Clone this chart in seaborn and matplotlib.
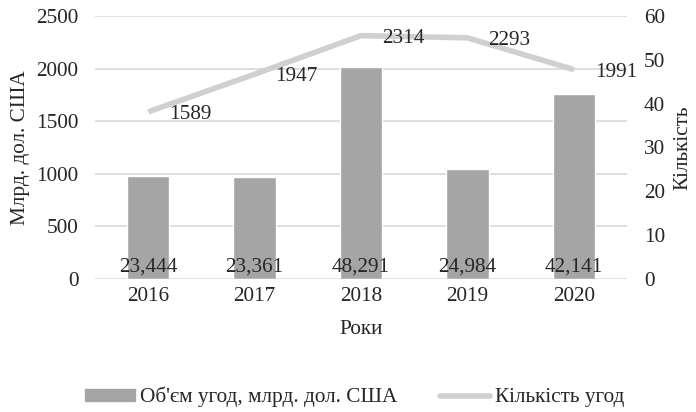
import numpy as np
import pandas as pd
import matplotlib
matplotlib.use('Agg')
import matplotlib.pyplot as plt
import seaborn as sns
from matplotlib.patches import Patch
from matplotlib.lines import Line2D

years = ['2016', '2017', '2018', '2019', '2020']
volume = [23.444, 23.361, 48.291, 24.984, 42.141]   # bars, right axis
deals = [1589, 1947, 2314, 2293, 1991]              # line, left axis

bar_label = "Об'єм угод, млрд. дол. США"
line_label = 'Кількість угод'

sns.set_style('white')
plt.rcParams['font.family'] = ['Liberation Serif', 'DejaVu Serif']
plt.rcParams['font.size'] = 15.3

bar_color = '#a5a5a5'
line_color = '#d0d0d0'
grid_color = '#d9d9d9'

df = pd.DataFrame({'year': years, 'volume': volume, 'deals': deals})

fig = plt.figure(figsize=(6.96, 4.12), dpi=100)
ax = fig.add_axes([0.1365, 0.323, 0.7645, 0.638])
ax2 = ax.twinx()

# line on the left axis
sns.lineplot(x=np.arange(len(years)), y=df['deals'], ax=ax, color=line_color,
             linewidth=4, solid_capstyle='butt')
ax.set_ylim(0, 2500)
ax.set_yticks(range(0, 2501, 500))
ax.yaxis.grid(True, color=grid_color, linewidth=1.2)
ax.set_axisbelow(True)

# bars on the right axis
sns.barplot(data=df, x='year', y='volume', ax=ax2, color=bar_color,
            width=0.4, saturation=1)
ax2.set_ylim(0, 60)
ax2.set_yticks(range(0, 61, 10))
ax.set_xlim(-0.5, len(years) - 0.5)
ax.set_xticks(range(len(years)))
ax.set_xticklabels(years)

for a in (ax, ax2):
    for s in a.spines.values():
        s.set_visible(False)
    a.tick_params(length=0)
ax.tick_params(axis='y', pad=12)
ax2.tick_params(axis='y', pad=12)
ax.tick_params(axis='x', pad=6)

ax.set_ylabel('Млрд. дол. США', labelpad=4)
ax2.set_ylabel('Кількість', labelpad=6)
ax.set_xlabel('Роки', labelpad=10)

# data labels
for i, v in enumerate(deals):
    ax.annotate(str(v), (i, v), xytext=(15, -2), textcoords='offset points',
                ha='left', va='center')
for i, v in enumerate(volume):
    ax2.text(i, 2.8, f'{v:.3f}'.replace('.', ','), ha='center', va='center')

handles = [Patch(color=bar_color, label=bar_label),
           Line2D([0], [0], color=line_color, linewidth=4, label=line_label)]
fig.legend(handles=handles, loc='center', bbox_to_anchor=(0.51, 0.036),
           ncol=2, frameon=False, columnspacing=2.0, handlelength=2.35,
           handletextpad=0.25, handleheight=0.5)

fig.savefig('out.png', dpi=100)
